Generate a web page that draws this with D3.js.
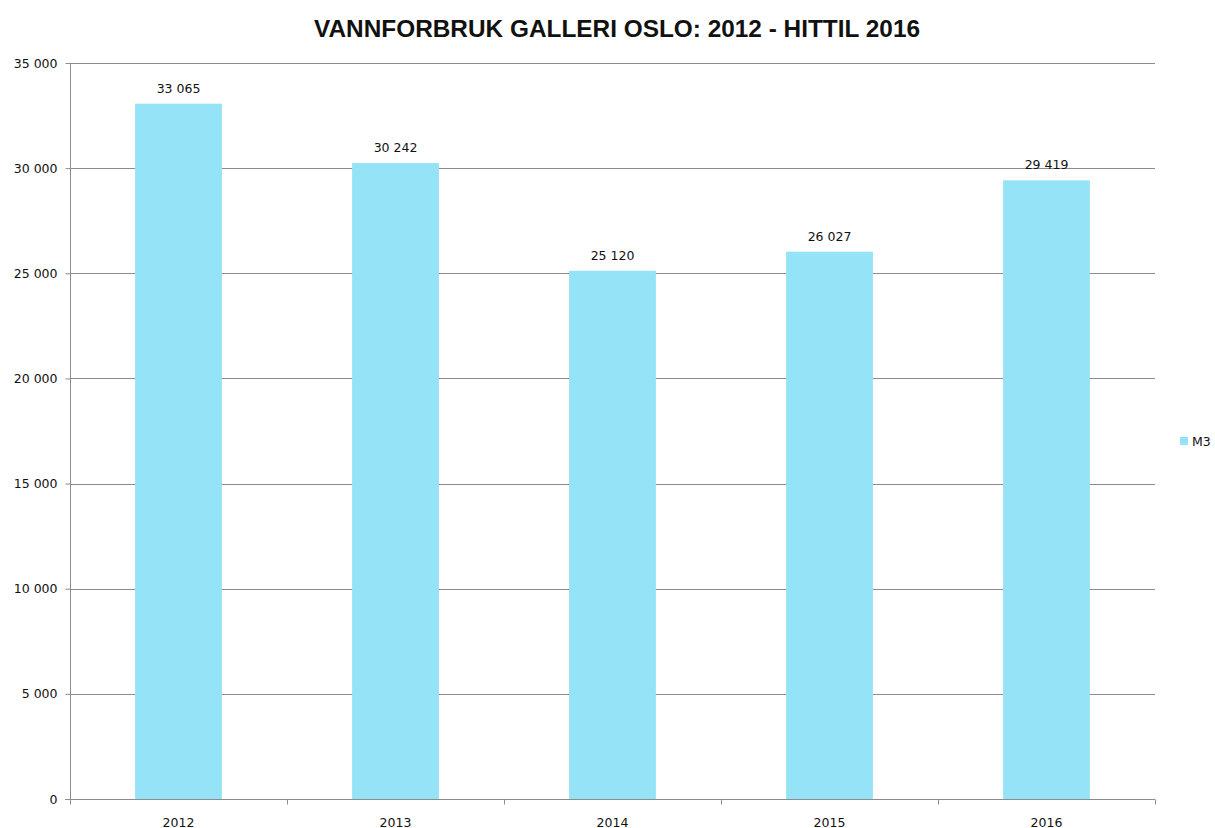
<!DOCTYPE html>
<html><head><meta charset="utf-8">
<script src="https://cdn.jsdelivr.net/npm/d3@7"></script>
<style>body{margin:0;background:#fff}svg{display:block}</style>
</head><body>
<script>
const categories = ["2012","2013","2014","2015","2016"];
const values = [33065, 30242, 25120, 26027, 29419];
const yTicks = [0,5000,10000,15000,20000,25000,30000,35000];
const seriesName = "M3";
const title = "VANNFORBRUK GALLERI OSLO: 2012 - HITTIL 2016";

const W = 1215, H = 828;
const m = {left:70, right:60, top:63, bottom:29};
const svg = d3.select("body").append("svg").attr("width",W).attr("height",H);
const x = d3.scaleBand().domain(categories).range([m.left, W-m.right]).paddingInner(0.6).paddingOuter(0.3);
const xb = d3.scaleBand().domain(categories).range([m.left, W-m.right]);
const y = d3.scaleLinear().domain([0,35000]).range([H-m.bottom, m.top]);
const fmt = v => d3.format(",")(v).replace(/,/g," ");
const font = "DejaVu Sans, Verdana, sans-serif";
const fs = 12.5;

svg.append("text").attr("x",617).attr("y",37).attr("text-anchor","middle")
  .attr("font-family","Liberation Sans, Arial, sans-serif").attr("font-weight","bold")
  .attr("font-size",24).attr("textLength",606).attr("lengthAdjust","spacingAndGlyphs")
  .attr("fill","#111").text(title);

// gridlines
svg.append("g").selectAll("line").data(yTicks.filter(d=>d>0)).join("line")
  .attr("x1",m.left).attr("x2",W-m.right).attr("y1",d=>Math.round(y(d))+0.5).attr("y2",d=>Math.round(y(d))+0.5)
  .attr("stroke","#8c8c8c").attr("stroke-width",1);

// y axis
const ya = svg.append("g").attr("transform",`translate(${m.left+0.5},0)`)
  .call(d3.axisLeft(y).tickValues(yTicks).tickFormat(fmt).tickSize(5).tickPadding(8));
ya.select(".domain").attr("stroke","#8c8c8c").attr("d",`M0,${y(35000)}V${y(0)}`);
ya.selectAll(".tick line").attr("stroke","#8c8c8c");
ya.selectAll("text").attr("font-family",font).attr("font-size",fs).attr("fill","#111");

// bars
svg.append("g").selectAll("rect").data(values).join("rect")
  .attr("x",(d,i)=>x(categories[i])).attr("width",x.bandwidth())
  .attr("y",d=>y(d)).attr("height",d=>y(0)-y(d)).attr("fill","#95e3f6");

// x axis
const xa = svg.append("g").attr("transform",`translate(0,${Math.round(y(0))+0.5})`);
xa.append("line").attr("x1",m.left-5).attr("x2",W-m.right).attr("stroke","#8c8c8c");
const bounds = categories.map(c=>xb(c)).concat([W-m.right]);
xa.selectAll("line.t").data(bounds).join("line").attr("class","t")
  .attr("x1",d=>Math.round(d)+0.5).attr("x2",d=>Math.round(d)+0.5).attr("y1",0).attr("y2",5).attr("stroke","#8c8c8c");
xa.selectAll("text").data(categories).join("text")
  .attr("x",d=>xb(d)+xb.bandwidth()/2).attr("y",27).attr("text-anchor","middle")
  .attr("font-family",font).attr("font-size",fs).attr("fill","#111").text(d=>d);

// value labels
svg.append("g").selectAll("text").data(values).join("text")
  .attr("x",(d,i)=>x(categories[i])+x.bandwidth()/2).attr("y",d=>y(d)-11)
  .attr("text-anchor","middle").attr("font-family",font).attr("font-size",fs).attr("fill","#111")
  .text(fmt);

// legend
const lg = svg.append("g").attr("transform","translate(1180,437)");
lg.append("rect").attr("width",8).attr("height",8).attr("fill","#95e3f6");
lg.append("text").attr("x",12).attr("y",9).attr("font-family",font).attr("font-size",fs).attr("fill","#111").text(seriesName);
</script>
</body></html>
